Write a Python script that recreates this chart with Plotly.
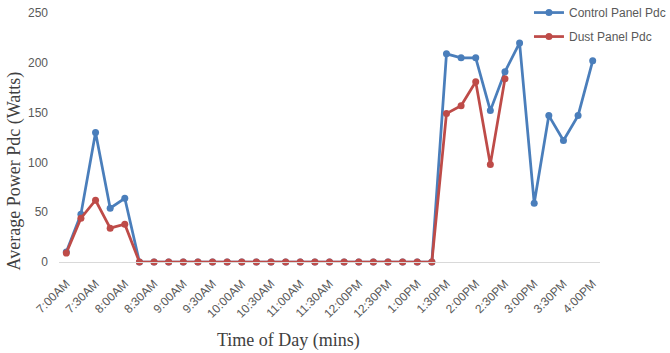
import plotly.graph_objects as go

times = ["7:00AM","7:15AM","7:30AM","7:45AM","8:00AM","8:15AM","8:30AM","8:45AM",
         "9:00AM","9:15AM","9:30AM","9:45AM","10:00AM","10:15AM","10:30AM","10:45AM",
         "11:00AM","11:15AM","11:30AM","11:45AM","12:00PM","12:15PM","12:30PM","12:45PM",
         "1:00PM","1:15PM","1:30PM","1:45PM","2:00PM","2:15PM","2:30PM","2:45PM",
         "3:00PM","3:15PM","3:30PM","3:45PM","4:00PM"]

control_pdc = [10, 48, 130, 54, 64, 0, 0, 0, 0, 0, 0, 0, 0, 0, 0, 0, 0, 0, 0, 0, 0, 0, 0, 0, 0, 0,
               209, 205, 205, 152, 191, 220, 59, 147, 122, 147, 202]
dust_pdc = [9, 44, 62, 34, 38, 0, 0, 0, 0, 0, 0, 0, 0, 0, 0, 0, 0, 0, 0, 0, 0, 0, 0, 0, 0, 0,
            149, 157, 181, 98, 184]

tick_labels = times[::2]
y_ticks = [0, 50, 100, 150, 200, 250]

blue = "#4a7ebb"
red = "#be4b48"

fig = go.Figure()
fig.add_trace(go.Scatter(x=times, y=control_pdc, mode="lines+markers", name="Control Panel Pdc",
                         line=dict(color=blue, width=2.75), marker=dict(size=7, color=blue),
                         cliponaxis=False, legendgroup="a"))
fig.add_trace(go.Scatter(x=times[:len(dust_pdc)], y=dust_pdc, mode="lines+markers", name="Dust Panel Pdc",
                         line=dict(color=red, width=2.75), marker=dict(size=7, color=red),
                         cliponaxis=False, legendgroup="b"))

tickfont = dict(family="Liberation Sans", size=12, color="#595959")
fig.update_layout(
    width=670, height=353,
    margin=dict(l=59, r=70, t=13, b=91, autoexpand=False),
    paper_bgcolor="white", plot_bgcolor="white",
    showlegend=True,
    legend=dict(x=0.8687, y=1.06, xanchor="left", yanchor="top",
                font=dict(family="Liberation Sans", size=12, color="#595959"),
                traceorder="grouped", tracegroupgap=5, bgcolor="rgba(0,0,0,0)"),
    xaxis=dict(type="category", categoryorder="array", categoryarray=times,
               range=[-0.5, len(times) - 0.5],
               tickmode="array", tickvals=tick_labels, ticktext=tick_labels,
               tickangle=-45, tickfont=tickfont, showgrid=False, zeroline=False,
               showline=True, linecolor="#d9d9d9", linewidth=1, ticks="",
               ticklabelstandoff=9, automargin=False),
    yaxis=dict(range=[0, 250], tickvals=y_ticks, tickfont=tickfont, showgrid=False,
               zeroline=False, showline=False, ticks="", ticklen=0,
               ticklabelstandoff=10, automargin=False),
    annotations=[
        dict(text="Time of Day (mins)", xref="paper", yref="paper", x=0.4247, y=-0.315,
             xanchor="center", yanchor="middle", showarrow=False,
             font=dict(family="Liberation Serif", size=18, color="#404040")),
        dict(text="Average Power Pdc (Watts)", xref="paper", yref="paper", x=-0.0825, y=0.365,
             xanchor="center", yanchor="middle", showarrow=False, textangle=-90,
             font=dict(family="Liberation Serif", size=18, color="#404040")),
    ],
)

fig.write_html("out.html")
